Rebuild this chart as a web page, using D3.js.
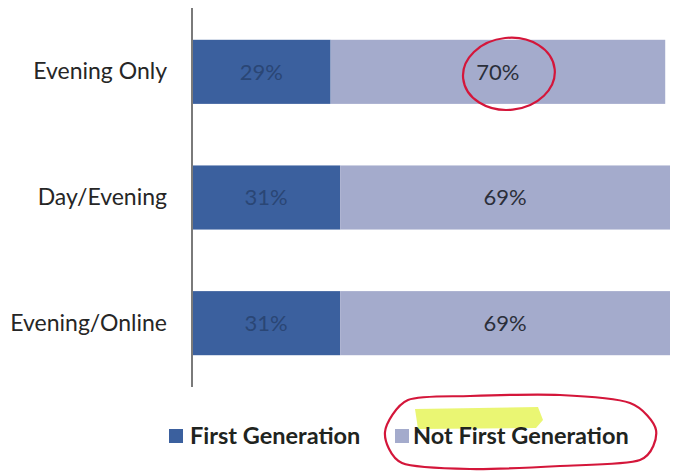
<!DOCTYPE html>
<html>
<head>
<meta charset="utf-8">
<script src="https://cdn.jsdelivr.net/npm/d3@7"></script>
<style>
  html, body { margin: 0; padding: 0; background: #fff; }
  svg { display: block; }
</style>
</head>
<body>
<div id="chart"></div>
<script>
// DATA
var categories = ['Evening Only', 'Day/Evening', 'Evening/Online'];
var firstGen = [29, 31, 31];
var notFirstGen = [70, 69, 69];
var seriesNames = ['First Generation', 'Not First Generation'];
var seriesColors = ['#3b609e', '#a4abcc'];
var labelColors = ['#2a4675', '#2b2f3a'];

// SIZES
var width = 679, height = 472;
var margin = { top: 8, right: 9, bottom: 85, left: 192 };

var svg = d3.select('#chart').append('svg')
   .attr('width', width)
   .attr('height', height);

// SCALES
var x = d3.scaleLinear().domain([0, 100]).range([margin.left, width - margin.right]);
var y = d3.scaleBand().domain(categories)
   .range([margin.top + 1, height - margin.bottom - 1])
   .paddingInner(0.49).paddingOuter(0.245);

// STACK
var rows = categories.map(function (c, i) {
   return { cat: c, first: firstGen[i], not: notFirstGen[i] };
});
var stack = d3.stack().keys(['first', 'not'])(rows);

// BARS
var layers = svg.selectAll('g.layer').data(stack).enter().append('g')
   .attr('class', 'layer')
   .attr('fill', function (d, i) { return seriesColors[i]; });

layers.selectAll('rect').data(function (d) { return d; }).enter().append('rect')
   .attr('x', function (d) { return x(d[0]); })
   .attr('y', function (d) { return y(d.data.cat); })
   .attr('width', function (d) { return x(d[1]) - x(d[0]); })
   .attr('height', y.bandwidth());

// VALUE LABELS
layers.each(function (layer, li) {
   d3.select(this).selectAll('text').data(layer).enter().append('text')
      .attr('x', function (d) { return (x(d[0]) + x(d[1])) / 2; })
      .attr('y', function (d) { return y(d.data.cat) + y.bandwidth() / 2; })
      .attr('dy', '0.36em')
      .attr('text-anchor', 'middle')
      .attr('fill', labelColors[li])
      .style('font-family', 'Lato, "Open Sans", sans-serif')
      .style('font-size', '22px')
      .text(function (d) { return (d[1] - d[0]) + '%'; });
});

// Y AXIS
var yAxis = svg.append('g')
   .attr('transform', 'translate(' + margin.left + ',0)')
   .call(d3.axisLeft(y).tickSize(0).tickPadding(25));
yAxis.select('.domain').attr('stroke', '#7a7a7a').attr('stroke-width', 2)
   .attr('d', 'M0,' + margin.top + 'V' + (height - margin.bottom));
yAxis.selectAll('text')
   .attr('fill', '#262626')
   .style('font-family', 'Lato, "Open Sans", sans-serif')
   .style('font-size', '23px');

// LEGEND
var legendItems = [{ sq: 169, tx: 190 }, { sq: 395, tx: 413 }];
var legendY = 436;

// yellow highlight (hand annotation)
svg.append('path')
   .attr('d', 'M415,409 L538,407 L543,420 L536,428 L418,429 Z')
   .attr('fill', '#e6f55a')
   .attr('opacity', 0.85);

var legend = svg.selectAll('g.legend').data(seriesNames).enter().append('g')
   .attr('class', 'legend');
legend.append('rect')
   .attr('x', function (d, i) { return legendItems[i].sq; })
   .attr('y', legendY - 7)
   .attr('width', 14).attr('height', 14)
   .attr('fill', function (d, i) { return seriesColors[i]; });
legend.append('text')
   .attr('x', function (d, i) { return legendItems[i].tx; })
   .attr('y', legendY)
   .attr('dy', '0.36em')
   .attr('fill', '#1f2420')
   .style('font-family', 'Lato, "Open Sans", sans-serif')
   .style('font-weight', 'bold')
   .style('font-size', '23.5px')
   .text(function (d) { return d; });

// RED HAND-DRAWN CIRCLES (annotations)
var red = '#d4163a';
var cx = (x(firstGen[0]) + x(firstGen[0] + notFirstGen[0])) / 2 + 11;
var cy = y(categories[0]) + y.bandwidth() / 2 + 2;
svg.append('ellipse')
   .attr('cx', cx).attr('cy', cy)
   .attr('rx', 46).attr('ry', 36)
   .attr('fill', 'none').attr('stroke', red).attr('stroke-width', 2.2)
   .attr('transform', 'rotate(-6,' + cx + ',' + cy + ')');

var loopPts = [[385, 432], [408, 400], [470, 396], [560, 395], [630, 403], [656, 430],
   [640, 460], [560, 466], [470, 469], [402, 463]];
svg.append('path')
   .attr('d', d3.line().curve(d3.curveCardinalClosed.tension(0.2))(loopPts))
   .attr('fill', 'none').attr('stroke', red).attr('stroke-width', 2.2);
</script>
</body>
</html>
